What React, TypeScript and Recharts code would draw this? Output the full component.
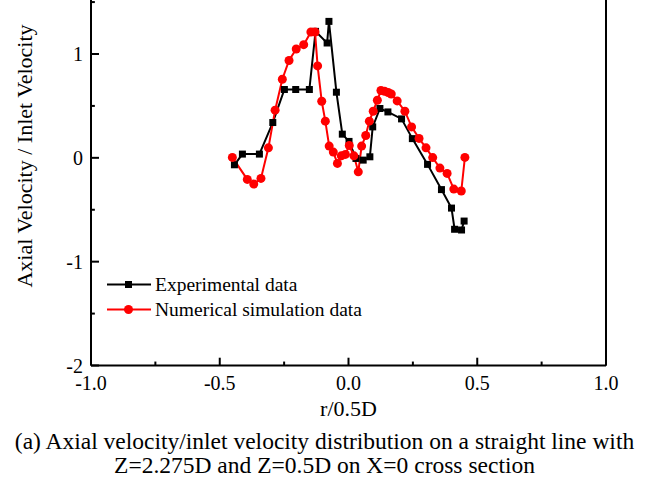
import React from "react"
import { LineChart, Line, XAxis, YAxis, ReferenceLine } from "recharts"

// Experimental data (black squares)
const expR = [
	-0.443, -0.412, -0.346, -0.294, -0.249, -0.205, -0.152, -0.128, -0.083, -0.076, -0.047, -0.024, 0.002, 0.029,
	0.057, 0.083, 0.094, 0.122, 0.153, 0.206, 0.248, 0.307, 0.361, 0.4, 0.412, 0.439, 0.449,
]
const expV = [
	-0.067, 0.036, 0.036, 0.34, 0.658, 0.658, 0.658, 1.218, 1.106, 1.314, 0.632, 0.228, 0.158, -0.006,
	-0.022, 0.01, 0.298, 0.475, 0.442, 0.375, 0.185, -0.063, -0.306, -0.484, -0.688, -0.695, -0.609,
]

// Numerical simulation data (red circles)
const simR = [
	-0.451, -0.393, -0.368, -0.34, -0.311, -0.285, -0.257, -0.231, -0.203, -0.174, -0.146, -0.13, -0.12, -0.104,
	-0.09, -0.075, -0.059, -0.043, -0.028, -0.012, 0.003, 0.021, 0.038, 0.051, 0.067, 0.081, 0.096, 0.112, 0.126,
	0.14, 0.154, 0.166, 0.189, 0.219, 0.245, 0.274, 0.301, 0.327, 0.355, 0.383, 0.409, 0.438, 0.452,
]
const simV = [
	0.004, -0.208, -0.253, -0.198, 0.096, 0.459, 0.757, 0.937, 1.048, 1.09, 1.212, 1.212, 0.885, 0.545,
	0.353, 0.113, 0.055, -0.054, 0.019, 0.033, 0.119, 0.019, -0.135, 0.113, 0.215, 0.353, 0.449, 0.555, 0.648,
	0.641, 0.629, 0.615, 0.548, 0.449, 0.298, 0.187, 0.096, 0.002, -0.099, -0.15, -0.301, -0.32, 0.004,
]

const xMajor = [-1, -0.5, 0, 0.5, 1]
const xMinor = [-0.75, -0.25, 0.25, 0.75]
const yMajor = [-2, -1, 0, 1]
const yMinor = [-1.5, -0.5, 0.5, 1.5]

const expData = expR.map((r, i) => ({ r, v: expV[i] }))
const simData = simR.map((r, i) => ({ r, v: simV[i] }))

const FONT = '"Liberation Serif", "Times New Roman", serif'

const SquareDot = (p: any) => (
	<rect key={`e-${p.index}`} x={p.cx - 3.5} y={p.cy - 3.5} width={7} height={7} fill="#000" />
)
const CircleDot = (p: any) => <circle key={`s-${p.index}`} cx={p.cx} cy={p.cy} r={4.5} fill="#ff0000" />

const captionLine = {
	position: "absolute" as const,
	left: 0,
	width: 649,
	textAlign: "center" as const,
	fontSize: 23.5,
	lineHeight: "24px",
	whiteSpace: "nowrap" as const,
}

export default function App() {
	return (
		<div style={{ position: "relative", width: 647, height: 483, background: "#fff", fontFamily: FONT, color: "#000" }}>
			<style>{`body{margin:0}`}</style>
			<LineChart width={647} height={483} margin={{ top: 0, right: 41, bottom: 87.5, left: 31 }}>
				<XAxis
					type="number"
					dataKey="r"
					domain={[-1, 1]}
					ticks={xMajor}
					tickFormatter={(t: number) => t.toFixed(1)}
					height={30}
					tickSize={0}
					tickMargin={10}
					tickLine={false}
					axisLine={{ stroke: "#000", strokeWidth: 2 }}
					tick={{ fontSize: 20, fill: "#000", fontFamily: FONT }}
					allowDataOverflow
				/>
				<YAxis
					type="number"
					domain={[-2, 1.52]}
					ticks={yMajor}
					width={60}
					tickSize={0}
					tickMargin={8}
					tickLine={false}
					axisLine={{ stroke: "#000", strokeWidth: 2 }}
					tick={{ fontSize: 20, fill: "#000", fontFamily: FONT }}
					allowDataOverflow
				/>
				<ReferenceLine x={1} stroke="#000" strokeWidth={2} />
				{yMajor.map((t) => (
					<ReferenceLine key={`ym${t}`} segment={[{ x: -1, y: t }, { x: -0.969, y: t }]} stroke="#000" strokeWidth={2} />
				))}
				{yMinor.map((t) => (
					<ReferenceLine key={`yn${t}`} segment={[{ x: -1, y: t }, { x: -0.985, y: t }]} stroke="#000" strokeWidth={2} />
				))}
				{xMajor.map((t) => (
					<ReferenceLine key={`xm${t}`} segment={[{ x: t, y: -2 }, { x: t, y: -1.925 }]} stroke="#000" strokeWidth={2} />
				))}
				{xMinor.map((t) => (
					<ReferenceLine key={`xn${t}`} segment={[{ x: t, y: -2 }, { x: t, y: -1.962 }]} stroke="#000" strokeWidth={2} />
				))}
				<Line data={expData} dataKey="v" stroke="#000" strokeWidth={2} dot={SquareDot} isAnimationActive={false} />
				<Line data={simData} dataKey="v" stroke="#ff0000" strokeWidth={2} dot={CircleDot} isAnimationActive={false} />
			</LineChart>

			{/* legend */}
			<div style={{ position: "absolute", left: 106, top: 272, fontSize: 19.5, lineHeight: "25px" }}>
				<div style={{ display: "flex", alignItems: "center" }}>
					<svg width={46} height={25}>
						<line x1={1} y1={12.5} x2={45} y2={12.5} stroke="#000" strokeWidth={2} />
						<rect x={19} y={9} width={7} height={7} fill="#000" />
					</svg>
					<span style={{ marginLeft: 3 }}>Experimental data</span>
				</div>
				<div style={{ display: "flex", alignItems: "center" }}>
					<svg width={46} height={25}>
						<line x1={1} y1={12.5} x2={45} y2={12.5} stroke="#ff0000" strokeWidth={2} />
						<circle cx={22.5} cy={12.5} r={4.5} fill="#ff0000" />
					</svg>
					<span style={{ marginLeft: 3 }}>Numerical simulation data</span>
				</div>
			</div>

			{/* y axis title */}
			<div
				style={{
					position: "absolute",
					left: 25,
					top: 156,
					transform: "translate(-50%, -50%) rotate(-90deg)",
					whiteSpace: "nowrap",
					fontSize: 22,
				}}
			>
				Axial Velocity / Inlet Velocity
			</div>

			{/* x axis title */}
			<div style={{ position: "absolute", left: 0, width: 697, top: 396, textAlign: "center", fontSize: 22 }}>
				r/0.5D
			</div>

			{/* caption */}
			<div style={{ ...captionLine, top: 429 }}>
				(a) Axial velocity/inlet velocity distribution on a straight line with
			</div>
			<div style={{ ...captionLine, top: 453 }}>Z=2.275D and Z=0.5D on X=0 cross section</div>
		</div>
	)
}
